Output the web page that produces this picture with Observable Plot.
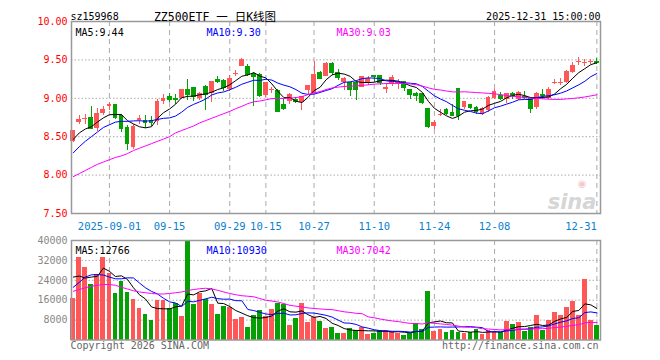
<!DOCTYPE html>
<html><head><meta charset="utf-8">
<script src="https://cdn.jsdelivr.net/npm/d3@7"></script>
<script src="https://cdn.jsdelivr.net/npm/@observablehq/plot@0.6"></script>
<style>
body{margin:0;background:#fff;}
#wrap{position:relative;width:660px;height:360px;overflow:hidden;background:#fff;}
#price,#vol{position:absolute;left:0;}
#price{top:0px}
#vol{top:236px}
svg{overflow:visible}
</style></head><body><div id="wrap"><div id="price"></div><div id="vol"></div></div>
<script>
// ---- data ----
const dates = ["2025-08-22","2025-08-25","2025-08-26","2025-08-27","2025-08-28","2025-08-29",
"2025-09-01","2025-09-02","2025-09-03","2025-09-04","2025-09-05","2025-09-08","2025-09-09","2025-09-10","2025-09-11","2025-09-12",
"2025-09-15","2025-09-16","2025-09-17","2025-09-18","2025-09-19","2025-09-22","2025-09-23","2025-09-24","2025-09-25","2025-09-26","2025-09-29","2025-09-30",
"2025-10-09","2025-10-10","2025-10-13","2025-10-14","2025-10-15","2025-10-16","2025-10-17","2025-10-20","2025-10-21","2025-10-22","2025-10-23","2025-10-24","2025-10-27","2025-10-28","2025-10-29","2025-10-30","2025-10-31",
"2025-11-03","2025-11-04","2025-11-05","2025-11-06","2025-11-07","2025-11-10","2025-11-11","2025-11-12","2025-11-13","2025-11-14","2025-11-17","2025-11-18","2025-11-19","2025-11-20","2025-11-21","2025-11-24","2025-11-25","2025-11-26","2025-11-27","2025-11-28",
"2025-12-01","2025-12-02","2025-12-03","2025-12-04","2025-12-05","2025-12-08","2025-12-09","2025-12-10","2025-12-11","2025-12-12","2025-12-15","2025-12-16","2025-12-17","2025-12-18","2025-12-19","2025-12-22","2025-12-23","2025-12-24","2025-12-25","2025-12-26","2025-12-29","2025-12-30","2025-12-31"];
const open = [8.434,8.69,8.72,8.75,8.605,8.80,8.89,8.917,8.78,8.62,
8.355,8.706,8.71,8.715,8.70,8.96,9.02,9.00,9.00,9.11,
9.135,9.00,9.15,9.06,9.24,9.23,9.11,9.31,9.42,9.42,
9.32,9.31,9.035,9.10,9.10,8.92,8.96,8.99,8.94,9.10,
9.065,9.33,9.28,9.45,9.33,9.20,9.20,9.20,9.145,9.19,
9.30,9.30,9.12,9.175,9.19,9.22,9.11,9.06,9.06,8.87,
8.63,8.78,8.85,8.815,9.13,8.875,8.915,8.88,8.79,8.84,
9.00,9.035,8.98,9.065,8.98,9.025,9.015,8.88,9.05,9.00,
9.20,9.20,9.20,9.34,9.465,9.455,9.465,9.475];
const close = [8.575,8.72,8.74,8.61,8.807,8.85,8.925,8.75,8.61,8.41,
8.636,8.74,8.68,8.685,8.96,9.00,8.98,8.99,9.11,9.045,
9.02,9.065,9.045,9.22,9.22,9.135,9.26,9.32,9.50,9.31,
9.28,9.035,9.20,9.11,8.825,8.87,9.045,8.96,9.02,9.165,
9.31,9.26,9.45,9.34,9.27,9.26,9.11,9.11,9.285,9.26,
9.28,9.21,9.145,9.27,9.21,9.145,9.045,9.035,8.95,8.63,
8.69,8.79,8.80,8.78,8.77,8.955,8.88,8.825,8.87,9.01,
9.09,9.00,9.06,9.03,9.08,9.005,8.87,9.065,9.035,9.11,
9.21,9.21,9.35,9.43,9.475,9.465,9.475,9.465];
const high = [8.585,8.77,8.79,8.89,8.87,8.89,8.95,8.92,8.79,8.65,
8.66,8.77,8.78,8.76,8.98,9.05,9.06,9.05,9.12,9.24,
9.14,9.08,9.17,9.22,9.285,9.24,9.30,9.36,9.52,9.44,
9.33,9.32,9.20,9.145,9.11,8.99,9.065,9.01,9.025,9.165,
9.48,9.35,9.46,9.46,9.37,9.27,9.20,9.20,9.29,9.29,
9.30,9.30,9.19,9.30,9.24,9.22,9.12,9.08,9.065,8.87,
8.715,8.86,8.87,8.925,9.13,8.955,8.915,8.89,8.88,9.02,
9.11,9.08,9.065,9.08,9.09,9.09,9.015,9.08,9.11,9.135,
9.245,9.255,9.365,9.46,9.53,9.505,9.51,9.52];
const low = [8.43,8.66,8.66,8.61,8.57,8.77,8.84,8.73,8.55,8.32,
8.33,8.66,8.61,8.63,8.64,8.92,8.95,8.92,8.99,8.97,
8.96,8.97,8.84,8.94,9.19,9.09,9.09,9.28,9.41,9.28,
8.89,9.01,9.01,9.06,8.81,8.84,8.925,8.935,8.845,9.035,
9.06,9.24,9.28,9.30,9.23,9.10,9.02,8.97,9.14,9.17,
9.20,9.17,9.065,9.16,9.12,9.09,8.98,8.96,8.925,8.605,
8.59,8.76,8.78,8.76,8.71,8.86,8.86,8.79,8.78,8.815,
8.98,8.97,8.935,8.98,8.97,8.99,8.80,8.86,8.99,8.99,
9.175,9.165,9.19,9.32,9.43,9.41,9.44,9.44];
const volume = [16800,33300,29300,22300,26300,33300,26900,18800,23700,19200,
16300,12800,10300,7800,15900,15900,12500,14500,9400,40000,
14300,18800,16300,14300,10300,13500,12900,8200,9200,4900,
9800,11900,9400,12300,14800,14300,5800,8800,14800,7200,
8900,7600,4800,5200,2700,2700,4800,3800,4900,2200,
2700,3800,3800,3600,2700,1800,2500,6500,4200,19500,
3600,4400,3000,3800,3100,2700,3100,4200,2200,3800,
3100,2900,7600,6100,7000,3400,5200,9800,3800,7800,
11100,9800,13100,15600,9800,24300,7800,5800];
const ma5Lead = [8.465,8.55,8.60,8.63];
const ma10Lead = [8.29,8.37,8.44,8.50,8.56,8.62,8.655,8.69,8.70];
const ma30Lead = [7.98,8.02,8.06,8.10,8.14,8.17,8.20,8.23,8.25,8.28,8.32,8.35,8.38,8.41,8.44,8.47,8.50,8.55,8.58,8.61,8.64,8.68,8.71,8.74,8.77,8.80,8.83,8.865,8.895];
const vma5Lead = [25300,25700,24900,25300];
const vma10Lead = [21200,23200,25300,26200,26300,26100,25300,24600,24600];
const vma30Lead = [19600,20300,21000,21600,22000,22300,22300,22000,21200,20500,19800,19300,19000,18700,18500,18500,18700,19000,19300,19900,20300,20600,20800,20500,20000,19300,18700,18200,17800];
const priceTicks = [7.5,8.0,8.5,9.0,9.5,10.0];
const volTicks = [8000,16000,24000,32000,40000];
const tickDates = ["2025-09-01","2025-09-15","2025-09-29","2025-10-15","2025-10-27","2025-11-10","2025-11-24","2025-12-08","2025-12-31"];
const tickLabels = ["2025-09-01","09-15","09-29","10-15","10-27","11-10","11-24","12-08","12-31"];
const code = "sz159968";
const title = "ZZ500ETF 一 日K线图";
const stamp = "2025-12-31 15:00:00";
const maPriceLabels = ["MA5:9.44","MA10:9.30","MA30:9.03"];
const maVolLabels = ["MA5:12766","MA10:10930","MA30:7042"];

// ---- helpers ----
const RED = "#ff5757", GREEN = "#04a004";
const maColors = ["#000000","#0000ff","#ff00ff"];
const FONT = "'DejaVu Sans Mono','Noto Sans CJK SC',monospace";
const idx = d3.range(dates.length);
const up = idx.filter(i => close[i] >= open[i]);
const dn = idx.filter(i => close[i] < open[i]);
function mavg(vals, n, lead){ return vals.map((v,i)=> i < n-1 ? lead[i] : d3.mean(vals.slice(i-n+1,i+1))); }
const ma = [mavg(close,5,ma5Lead), mavg(close,10,ma10Lead), mavg(close,30,ma30Lead)];
const vma = [mavg(volume,5,vma5Lead), mavg(volume,10,vma10Lead), mavg(volume,30,vma30Lead)];
const tickIdx = tickDates.map(d => dates.indexOf(d));
const W = 0.4;
const xScale = {type:"linear", domain:[-0.3, 87.6], axis:null};
const gridStroke = "#aaaaaa";
const labelX = [4, 135, 265];

const pricePlot = Plot.plot({
  width: 660, height: 236,
  marginLeft: 71, marginRight: 60, marginTop: 21, marginBottom: 23,
  x: xScale,
  y: {domain:[7.5,10]},
  style: {fontFamily: FONT, fontSize: "10px", background: "transparent"},
  marks: [
    Plot.ruleY(priceTicks.slice(1,-1), {stroke: gridStroke, strokeDasharray: "1.5,2"}),
    Plot.ruleX(tickIdx, {stroke: gridStroke, strokeDasharray: "5,4"}),
    Plot.axisY({ticks: priceTicks, tickSize: 0, tickPadding: 4, tickFormat: d3.format(".2f"), color: "#ff0000", label: null, fontSize: 10}),
    Plot.text(["sina"], {frameAnchor: "bottom-right", dx: -4, dy: -5, lineAnchor: "bottom", textAnchor: "end", fontSize: 21, fontStyle: "italic", fontWeight: "bold", fill: "#d6d6d6", fontFamily: "'DejaVu Sans',sans-serif"}),
    Plot.text(["◉"], {frameAnchor: "bottom-right", dx: -14, dy: -27, fontSize: 10, fill: "#f3c9c9", fontFamily: "'DejaVu Sans',sans-serif"}),
    Plot.ruleX(up, {x: i=>i, y1: i=>low[i], y2: i=>high[i], stroke: RED, shapeRendering: "crispEdges"}),
    Plot.ruleX(dn, {x: i=>i, y1: i=>low[i], y2: i=>high[i], stroke: GREEN, shapeRendering: "crispEdges"}),
    Plot.rect(up, {x1: i=>i-W, x2: i=>i+W, y1: i=>open[i], y2: i=>close[i], fill: RED, shapeRendering: "crispEdges"}),
    Plot.rect(dn, {x1: i=>i-W, x2: i=>i+W, y1: i=>open[i], y2: i=>close[i], fill: GREEN, shapeRendering: "crispEdges"}),
    Plot.ruleY(up, {x1: i=>i-W, x2: i=>i+W, y: i=>close[i], stroke: RED, shapeRendering: "crispEdges"}),
    Plot.ruleY(dn, {x1: i=>i-W, x2: i=>i+W, y: i=>close[i], stroke: GREEN, shapeRendering: "crispEdges"}),
    ...ma.map((m,k) => Plot.line(idx, {x: i=>i, y: i=>m[i], stroke: maColors[k], strokeWidth: 1})),
    Plot.frame({stroke: "#999999", strokeWidth: 1.5}),
    Plot.text(tickIdx.slice(0,-1), {x: i=>i, text: (d,j)=>tickLabels[j], frameAnchor: "bottom", lineAnchor: "top", dy: 9, fill: "#0a80cf", fontSize: 10.5}),
    Plot.text(tickIdx.slice(-1), {x: i=>i, text: ()=>tickLabels[tickLabels.length-1], frameAnchor: "bottom", lineAnchor: "top", textAnchor: "end", dy: 9, fill: "#0a80cf", fontSize: 10.5}),
    ...maPriceLabels.map((t,k) => Plot.text([t], {frameAnchor: "top-left", dx: labelX[k], dy: 7, textAnchor: "start", fill: maColors[k], fontSize: 10})),
    Plot.text([code], {frameAnchor: "top-left", dx: -1, dy: -9, textAnchor: "start", fill: "#000", fontSize: 10}),
    Plot.text([title], {frameAnchor: "top-left", dx: 143.5, dy: -9, textAnchor: "middle", fill: "#000", fontSize: 11.5}),
    Plot.text([stamp], {frameAnchor: "top-right", dx: 0, dy: -9, textAnchor: "end", fill: "#000", fontSize: 10})
  ]
});
document.getElementById("price").appendChild(pricePlot);

const volPlot = Plot.plot({
  width: 660, height: 124,
  marginLeft: 71, marginRight: 60, marginTop: 4, marginBottom: 20.5,
  x: xScale,
  y: {domain:[0,40000]},
  style: {fontFamily: FONT, fontSize: "10px", background: "transparent"},
  marks: [
    Plot.ruleY(volTicks.slice(0,-1), {stroke: gridStroke, strokeDasharray: "1.5,2"}),
    Plot.ruleX(tickIdx, {stroke: gridStroke, strokeDasharray: "5,4"}),
    Plot.axisY({ticks: volTicks, tickSize: 0, tickPadding: 4, tickFormat: d=>String(d), color: "#888888", label: null, fontSize: 10}),
    Plot.rect(up, {x1: i=>i-W, x2: i=>i+W, y1: 0, y2: i=>volume[i], fill: RED, shapeRendering: "crispEdges"}),
    Plot.rect(dn, {x1: i=>i-W, x2: i=>i+W, y1: 0, y2: i=>volume[i], fill: GREEN, shapeRendering: "crispEdges"}),
    ...vma.map((m,k) => Plot.line(idx, {x: i=>i, y: i=>m[i], stroke: maColors[k], strokeWidth: 1})),
    Plot.frame({stroke: "#999999", strokeWidth: 1.5}),
    ...maVolLabels.map((t,k) => Plot.text([t], {frameAnchor: "top-left", dx: labelX[k], dy: 6, textAnchor: "start", fill: maColors[k], fontSize: 10})),
    Plot.text(["Copyright 2026 SINA.COM"], {frameAnchor: "bottom-left", dx: -1, dy: 2, lineAnchor: "top", textAnchor: "start", fill: "#666", fontSize: 10}),
    Plot.text(["http://finance.sina.com.cn"], {frameAnchor: "bottom-right", dx: -2, dy: 2, lineAnchor: "top", textAnchor: "end", fill: "#666", fontSize: 10})
  ]
});
document.getElementById("vol").appendChild(volPlot);
</script></body></html>
